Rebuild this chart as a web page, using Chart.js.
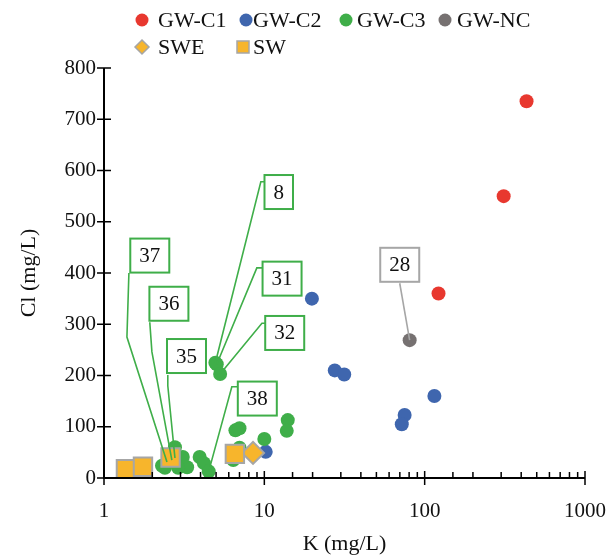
<!DOCTYPE html>
<html>
<head>
<meta charset="utf-8">
<script src="https://cdn.jsdelivr.net/npm/chart.js@4.4.1/dist/chart.umd.min.js"></script>
<style>
  html, body { margin: 0; padding: 0; background: #fff; }
  #wrap { width: 611px; height: 558px; }
</style>
</head>
<body>
<div id="wrap"><canvas id="chart"></canvas></div>
<script>
// [K (mg/L), Cl (mg/L)]
const gwC1 = [[432, 735], [311, 550], [122, 360]];
const gwC2 = [[19.8, 350], [27.5, 210], [31.5, 202], [75, 123], [72, 105], [115, 160], [10.2, 51]];
const gwC3 = [
  [4.95, 225], [5.05, 222], [5.3, 203],
  [6.6, 93], [7.0, 97], [14.0, 113], [13.8, 92], [10.0, 76], [7.0, 59], [6.4, 35],
  [3.95, 41], [4.2, 29], [4.5, 13], [3.3, 21],
  [2.77, 60], [3.1, 41], [2.4, 20], [2.9, 20], [2.3, 24],
  [2.47, 31], [2.65, 35], [2.77, 39]
];
const gwNC = [[80.6, 269]];
const swe = [[8.5, 49]];
const sw = [[1.37, 17], [1.75, 22], [2.6, 40], [6.55, 47]];

const xTickLabels = [1, 10, 100, 1000];
const yTicks = [0, 100, 200, 300, 400, 500, 600, 700, 800];

// sample labels: box centre, leader path (data units), ends at the sample
const sampleLabels = [
  { text: '8',  color: '#3fae49', box: [12.3, 558], path: [[10.07, 578], [9.51, 578], [4.95, 225]] },
  { text: '31', color: '#3fae49', box: [12.9, 389], path: [[9.78, 410], [8.98, 410], [5.05, 222]] },
  { text: '32', color: '#3fae49', box: [13.4, 283], path: [[10.2, 302], [9.66, 302], [5.3, 203]] },
  { text: '37', color: '#3fae49', box: [1.93, 434], path: [[1.43, 400], [1.39, 275], [2.47, 31]] },
  { text: '36', color: '#3fae49', box: [2.54, 340], path: [[1.93, 304], [1.99, 246], [2.65, 35]] },
  { text: '35', color: '#3fae49', box: [3.27, 238], path: [[2.50, 201], [2.50, 180], [2.77, 39]] },
  { text: '38', color: '#3fae49', box: [9.04, 155], path: [[6.84, 178], [6.27, 178], [4.5, 13]] },
  { text: '28', color: '#a6a6a6', box: [69.9, 416], path: [[69.9, 380], [80.6, 269]] }
];

const legendItems = [
  { text: 'GW-C1', style: 'circle', fill: '#e8382f', border: '#e8382f', mx: 142, tx: 158, y: 20 },
  { text: 'GW-C2', style: 'circle', fill: '#3f66ae', border: '#3f66ae', mx: 246, tx: 253, y: 20 },
  { text: 'GW-C3', style: 'circle', fill: '#3fae49', border: '#3fae49', mx: 346, tx: 357, y: 20 },
  { text: 'GW-NC', style: 'circle', fill: '#767171', border: '#767171', mx: 445, tx: 457, y: 20 },
  { text: 'SWE', style: 'rectRot', fill: '#f7b52c', border: '#a6a6a6', mx: 142, tx: 158, y: 47 },
  { text: 'SW', style: 'rect', fill: '#f7b52c', border: '#a6a6a6', mx: 243, tx: 253, y: 47 }
];

const serif = '"Liberation Serif", "Times New Roman", serif';
const toXY = arr => arr.map(p => ({ x: p[0], y: p[1] }));

const extras = {
  id: 'extras',
  afterDatasetsDraw(chart) {
    const ctx = chart.ctx;
    const xs = chart.scales.x, ys = chart.scales.y;
    const area = chart.chartArea;
    ctx.save();
    // axes
    ctx.strokeStyle = '#000';
    ctx.lineWidth = 2;
    ctx.beginPath();
    ctx.moveTo(area.left, area.top);
    ctx.lineTo(area.left, area.bottom);
    ctx.lineTo(area.right, area.bottom);
    ctx.stroke();
    ctx.lineWidth = 1.5;
    ctx.beginPath();
    yTicks.forEach(v => {
      const py = ys.getPixelForValue(v);
      ctx.moveTo(area.left - 7, py);
      ctx.lineTo(area.left + 7, py);
    });
    xs.ticks.forEach(t => {
      const px = xs.getPixelForValue(t.value);
      const major = xTickLabels.includes(t.value);
      ctx.moveTo(px, area.bottom - (major ? 7 : 6));
      ctx.lineTo(px, area.bottom + (major ? 7 : 0));
    });
    ctx.stroke();

    // sample labels
    ctx.font = '21px ' + serif;
    ctx.textAlign = 'center';
    ctx.textBaseline = 'middle';
    sampleLabels.forEach(l => {
      const pts = l.path.map(p => [xs.getPixelForValue(p[0]), ys.getPixelForValue(p[1])]);
      ctx.strokeStyle = l.color;
      ctx.lineWidth = 1.6;
      ctx.beginPath();
      ctx.moveTo(pts[0][0], pts[0][1]);
      pts.slice(1).forEach(p => ctx.lineTo(p[0], p[1]));
      ctx.stroke();
      const cx = xs.getPixelForValue(l.box[0]), cy = ys.getPixelForValue(l.box[1]);
      const w = ctx.measureText(l.text).width + 18, h = 34;
      ctx.fillStyle = '#fff';
      ctx.fillRect(cx - w / 2, cy - h / 2, w, h);
      ctx.lineWidth = 2;
      ctx.strokeRect(cx - w / 2, cy - h / 2, w, h);
      ctx.fillStyle = '#111';
      ctx.fillText(l.text, cx, cy + 1);
    });

    // legend
    ctx.font = '22px ' + serif;
    ctx.textAlign = 'left';
    legendItems.forEach(it => {
      ctx.fillStyle = it.fill;
      ctx.strokeStyle = it.border;
      ctx.lineWidth = 1.5;
      if (it.style === 'circle') {
        ctx.beginPath();
        ctx.arc(it.mx, it.y, 6.5, 0, Math.PI * 2);
        ctx.fill();
      } else if (it.style === 'rect') {
        ctx.fillRect(it.mx - 6, it.y - 6, 12, 12);
        ctx.strokeRect(it.mx - 6, it.y - 6, 12, 12);
      } else {
        ctx.beginPath();
        ctx.moveTo(it.mx, it.y - 7);
        ctx.lineTo(it.mx + 7, it.y);
        ctx.lineTo(it.mx, it.y + 7);
        ctx.lineTo(it.mx - 7, it.y);
        ctx.closePath();
        ctx.fill();
        ctx.stroke();
      }
      ctx.fillStyle = '#111';
      ctx.fillText(it.text, it.tx, it.y + 1);
    });
    ctx.restore();
  }
};

const circle = (data, color, order) => ({
  data: toXY(data), order,
  pointStyle: 'circle', pointRadius: 7, pointHoverRadius: 7,
  backgroundColor: color, borderColor: color, borderWidth: 0
});

new Chart(document.getElementById('chart'), {
  type: 'scatter',
  data: {
    datasets: [
      Object.assign({ label: 'GW-C1' }, circle(gwC1, '#e8382f', 5)),
      Object.assign({ label: 'GW-C2' }, circle(gwC2, '#3f66ae', 4)),
      Object.assign({ label: 'GW-C3' }, circle(gwC3, '#3fae49', 3)),
      Object.assign({ label: 'GW-NC' }, circle(gwNC, '#767171', 2)),
      { label: 'SWE', data: toXY(swe), order: 1, pointStyle: 'rectRot', pointRadius: 11, pointHoverRadius: 11,
        backgroundColor: '#f7b52c', borderColor: '#a6a6a6', borderWidth: 2 },
      { label: 'SW', data: toXY(sw), order: 0, pointStyle: 'rect', pointRadius: 13, pointHoverRadius: 13,
        backgroundColor: '#f7b52c', borderColor: '#a6a6a6', borderWidth: 2 }
    ]
  },
  options: {
    responsive: true,
    maintainAspectRatio: false,
    animation: false,
    layout: { padding: { top: 68, right: 26, left: 0, bottom: 0 } },
    plugins: { legend: { display: false }, tooltip: { enabled: false } },
    scales: {
      x: {
        type: 'logarithmic', min: 1, max: 1000,
        grid: { display: false, drawTicks: true, tickLength: 21 },
        border: { display: false },
        afterFit: s => { s.height = 80; },
        ticks: {
          autoSkip: false, maxRotation: 0, padding: 0, color: '#111',
          font: { family: serif, size: 21 },
          callback: v => xTickLabels.includes(v) ? String(v) : ''
        },
        title: { display: true, text: 'K (mg/L)', color: '#111', font: { family: serif, size: 22 }, padding: { top: 0, bottom: 1 } }
      },
      y: {
        min: 0, max: 800,
        grid: { display: false, drawTicks: false },
        border: { display: false },
        afterFit: s => { s.width = 104; },
        afterBuildTicks: s => { s.ticks = yTicks.map(v => ({ value: v })); },
        ticks: { padding: 8, color: '#111', font: { family: serif, size: 21 } },
        title: { display: true, text: 'Cl (mg/L)', color: '#111', font: { family: serif, size: 22 }, padding: { top: 16, bottom: 0 } }
      }
    }
  },
  plugins: [extras]
});
</script>
</body>
</html>
